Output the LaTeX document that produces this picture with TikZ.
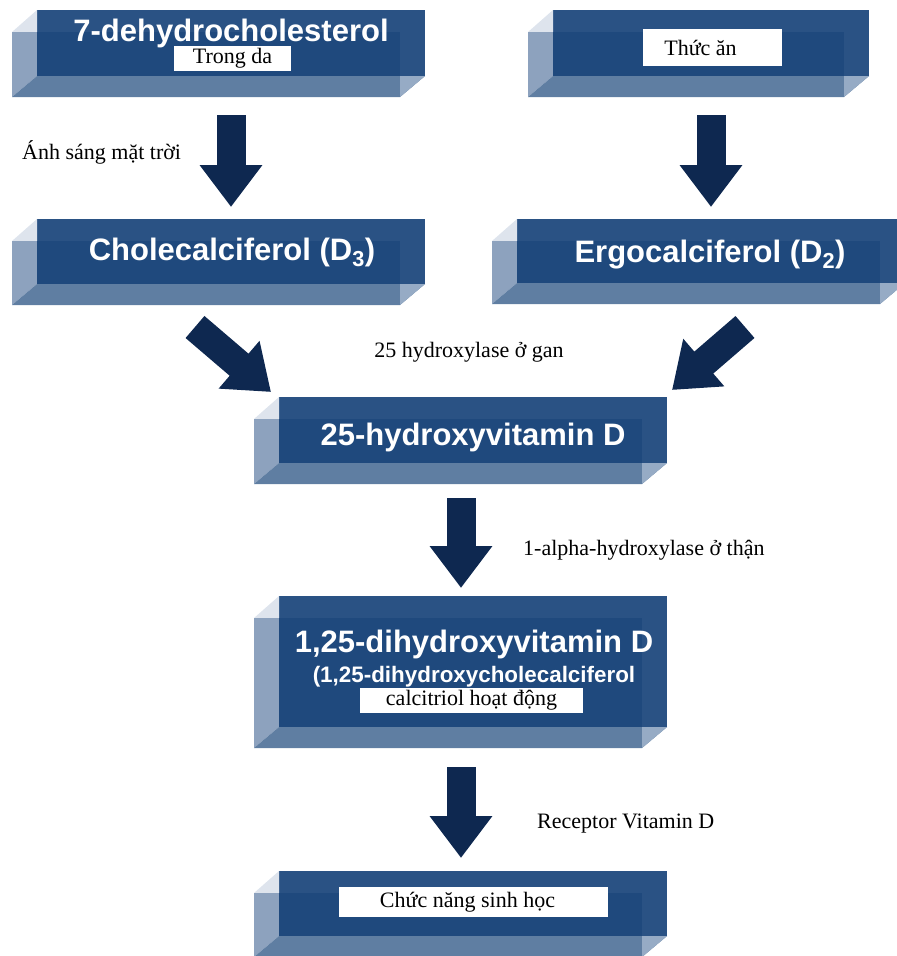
\documentclass[tikz,border=0pt]{standalone}
\usepackage{fontspec}
\setmainfont{Liberation Serif}
\setsansfont{Liberation Sans}
\usetikzlibrary{positioning,calc,arrows.meta}
\definecolor{frontblue}{RGB}{31,73,125}
\definecolor{frontlight}{RGB}{42,82,132}
\definecolor{leftblue}{RGB}{141,162,190}
\definecolor{bottomblue}{RGB}{95,126,162}
\definecolor{cornerblue}{RGB}{222,228,237}
\definecolor{edgeblue}{RGB}{150,171,197}
\definecolor{arrowblue}{RGB}{14,40,80}

\begin{document}
\begin{tikzpicture}[x=1pt, y=-1pt, node distance=208.5pt,
    slab/.style={rectangle, fill=frontlight, minimum width=388pt, minimum height=66pt, inner sep=0pt, outer sep=0pt},
    ttl/.style={anchor=base, text=white, font=\sffamily\bfseries\fontsize{31}{36}\selectfont},
    subttl/.style={anchor=base, text=white, font=\sffamily\bfseries\fontsize{22.4}{26}\selectfont},
    tag/.style={fill=white, inner sep=0pt, font=\fontsize{22}{26}\selectfont},
    note/.style={anchor=base west, inner sep=0pt, font=\fontsize{22}{26}\selectfont},
    bigarrow/.style={draw=arrowblue, line width=29pt, -{Triangle[width=60pt,length=42pt]}}]
    \useasboundingbox (0,0) rectangle (897,956);

    \node[slab] (dhc) at (231,43) {};
    \node[slab, right of=dhc, node distance=480pt, minimum width=316pt] (thuc) {};
    \node[slab, below of=dhc, minimum height=65pt] (chol) {};
    \node[slab, below of=thuc, node distance=208pt, minimum height=64pt] (ergo) {};
    \node[slab] (oh25) at (473,430) {};
    \node[slab, below of=oh25, node distance=231.5pt, minimum height=131pt] (dihy) {};
    \node[slab, below of=dihy, node distance=242pt, minimum height=65pt] (chuc) {};

    \foreach \n in {dhc,thuc,chol,ergo,oh25,dihy,chuc} {
        \fill[cornerblue] ($(\n.north west)+(-25,22)$) -- (\n.north west) -- ($(\n.north west)+(0,22)$) -- cycle;
        \fill[leftblue] ($(\n.north west)+(-25,22)$) -- ($(\n.north west)+(0,22)$) -- (\n.south west) -- ($(\n.south west)+(-25,21)$) -- cycle;
        \fill[bottomblue] ($(\n.south west)+(-25,21)$) -- (\n.south west) -- (\n.south east) -- ($(\n.south east)+(-25,21)$) -- cycle;
        \fill[edgeblue] ($(\n.south east)+(-25,0)$) -- (\n.south east) -- ($(\n.south east)+(-25,21)$) -- cycle;
        \fill[frontblue] ($(\n.north west)+(0,22)$) rectangle ($(\n.south east)+(-25,0)$);
    }

    \node[ttl] (dhct) at ($(dhc.north)+(0,31)$) {7-dehydrocholesterol};
    \node[tag, minimum width=117pt, minimum height=25pt] (dhcl) at ($(dhc.north)+(1.5,48.5)$) {Trong da};
    \node[tag, minimum width=139pt, minimum height=37pt] (thucl) at ($(thuc.north)+(1.5,37.5)$) {Thức ăn\hspace*{24pt}};
    \node[ttl] (cholt) at ($(chol.north)+(1,41)$) {Cholecalciferol (D\textsubscript{3})};
    \node[ttl] (ergot) at ($(ergo.north)+(-1,43)$) {Ergocalciferol (D\textsubscript{2})};
    \node[ttl] (oh25t) at ($(oh25.north)+(0,48)$) {25-hydroxyvitamin D};
    \node[ttl] (dihyt) at ($(dihy.north)+(1,56)$) {1,25-dihydroxyvitamin D};
    \node[subttl] (dihys) at ($(dihy.north)+(1,86)$) {(1,25-dihydroxycholecalciferol};
    \node[tag, minimum width=223pt, minimum height=25pt] (dihyl) at ($(dihy.north)+(-1.5,104.5)$) {calcitriol hoạt động};
    \node[tag, minimum width=269pt, minimum height=30pt] (chucl) at ($(chuc.north)+(0.5,31)$) {Chức năng sinh học\hspace*{12pt}};

    \node[note] (sun) at (22,159) {Ánh sáng mặt trời};
    \node[note, anchor=base] (liver) at (469,357) {25 hydroxylase ở gan};
    \node[note] (kidney) at (523,555) {1-alpha-hydroxylase ở thận};
    \node[note] (vdr) at (537,828) {Receptor Vitamin D};

    \draw[bigarrow, shorten <=39pt, shorten >=12pt] (dhc) -- (chol);
    \draw[bigarrow, shorten <=39pt, shorten >=12pt] (thuc) -- (ergo);
    \draw[bigarrow] ($(chol.south)+(-36,43)$) -- ($(oh25.north west)+(-8,-5)$);
    \draw[bigarrow] ($(ergo.south)+(34,44)$) -- ($(oh25.north east)+(5,-7)$);
    \draw[bigarrow, shorten <=35pt, shorten >=8pt] ([xshift=-12pt]oh25.south) -- ([xshift=-12pt]dihy.north);
    \draw[bigarrow, shorten <=40pt, shorten >=13pt] ([xshift=-12pt]dihy.south) -- ([xshift=-12pt]chuc.north);
\end{tikzpicture}
\end{document}
